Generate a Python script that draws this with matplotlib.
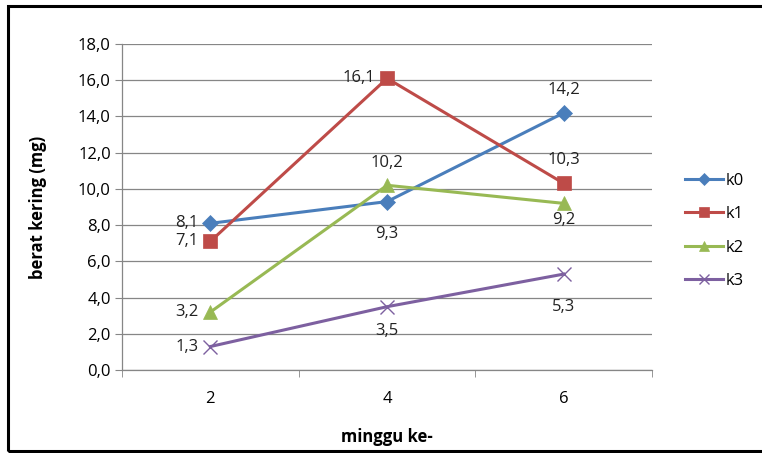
import matplotlib.pyplot as plt
from matplotlib.patches import Rectangle
from matplotlib.ticker import FixedLocator, FuncFormatter

plt.rcParams['font.family'] = ['Open Sans', 'DejaVu Sans']

# pengamatan berat kering per minggu
minggu = ['2', '4', '6']
k0 = [8.1, 9.3, 14.2]
k1 = [7.1, 16.1, 10.3]
k2 = [3.2, 10.2, 9.2]
k3 = [1.3, 3.5, 5.3]

# letak label data (dx, dy dalam piksel) per seri
off_k0 = [(-12, 0), (0, -32), (0, 23)]
off_k1 = [(-12, 0), (-12, 0), (0, 23)]
off_k2 = [(-12, 0), (0, 22), (0, -17)]
off_k3 = [(-12, 0), (0, -24), (0, -33)]

series = [
    ('k0', k0, '#4A7EBB', 'D', 8, off_k0),
    ('k1', k1, '#BE4B48', 's', 10, off_k1),
    ('k2', k2, '#98B954', '^', 10, off_k2),
    ('k3', k3, '#7D60A0', 'x', 10, off_k3),
]

fs = 12
px = 72 / 100  # piksel -> poin

fig = plt.figure(figsize=(7.62, 4.53), dpi=100)
ax = fig.add_axes([0.160, 0.183, 0.696, 0.720])

x = range(len(minggu))
for name, vals, col, mk, ms, offs in series:
    ax.plot(x, vals, color=col, lw=2.2, marker=mk, ms=ms, label=name,
            markeredgewidth=1.0 if mk == 'x' else 0.5,
            markeredgecolor=col, zorder=3)
    for xi, v, (dx, dy) in zip(x, vals, offs):
        ha = 'right' if dx < 0 else 'center'
        ax.annotate(f'{v:.1f}'.replace('.', ','), (xi, v),
                    xytext=(dx * px, dy * px), textcoords='offset points',
                    ha=ha, va='center', fontsize=fs, color='#222222')

ax.set_xlim(-0.5, len(minggu) - 0.5)
ax.set_ylim(0, 18)
ax.set_yticks([0, 2, 4, 6, 8, 10, 12, 14, 16, 18])
ax.yaxis.set_major_formatter(FuncFormatter(lambda v, _: f'{v:.1f}'.replace('.', ',')))
ax.set_xticks(list(x))
ax.set_xticklabels(minggu, fontsize=fs)
ax.xaxis.set_minor_locator(FixedLocator([-0.5, 0.5, 1.5, 2.5]))
ax.tick_params(axis='x', which='major', length=0, pad=15)
ax.tick_params(axis='x', which='minor', length=5, color='#868686')
ax.tick_params(axis='y', length=5, color='#868686', labelsize=fs, pad=3)
ax.grid(axis='y', color='#868686', lw=0.9)
ax.set_axisbelow(True)
for s in ['top', 'right']:
    ax.spines[s].set_visible(False)
for s in ['left', 'bottom']:
    ax.spines[s].set_color('#868686')
    ax.spines[s].set_linewidth(0.9)

ax.set_xlabel('minggu ke-', fontsize=fs, fontweight='bold')
ax.set_ylabel('berat kering (mg)', fontsize=fs, fontweight='bold')
ax.xaxis.set_label_coords(0.5, (370 - 437) / 326)
ax.yaxis.set_label_coords((38 - 122) / 530, 0.5)
ax.xaxis.label.set_va('center')
ax.yaxis.label.set_va('center')

fig.legend(*ax.get_legend_handles_labels(), loc='center left',
           bbox_to_anchor=(685 / 762, 1 - 231 / 453), frameon=False,
           fontsize=fs, handlelength=2.3, handletextpad=0.15,
           labelspacing=1.05, markerscale=0.75, borderpad=0, borderaxespad=0)

fig.patches.append(Rectangle((8 / 762, 2 / 453), 1.0, 445 / 453, transform=fig.transFigure,
                             fill=False, edgecolor='black', lw=2.2))

fig.savefig('out.png', dpi=100)
